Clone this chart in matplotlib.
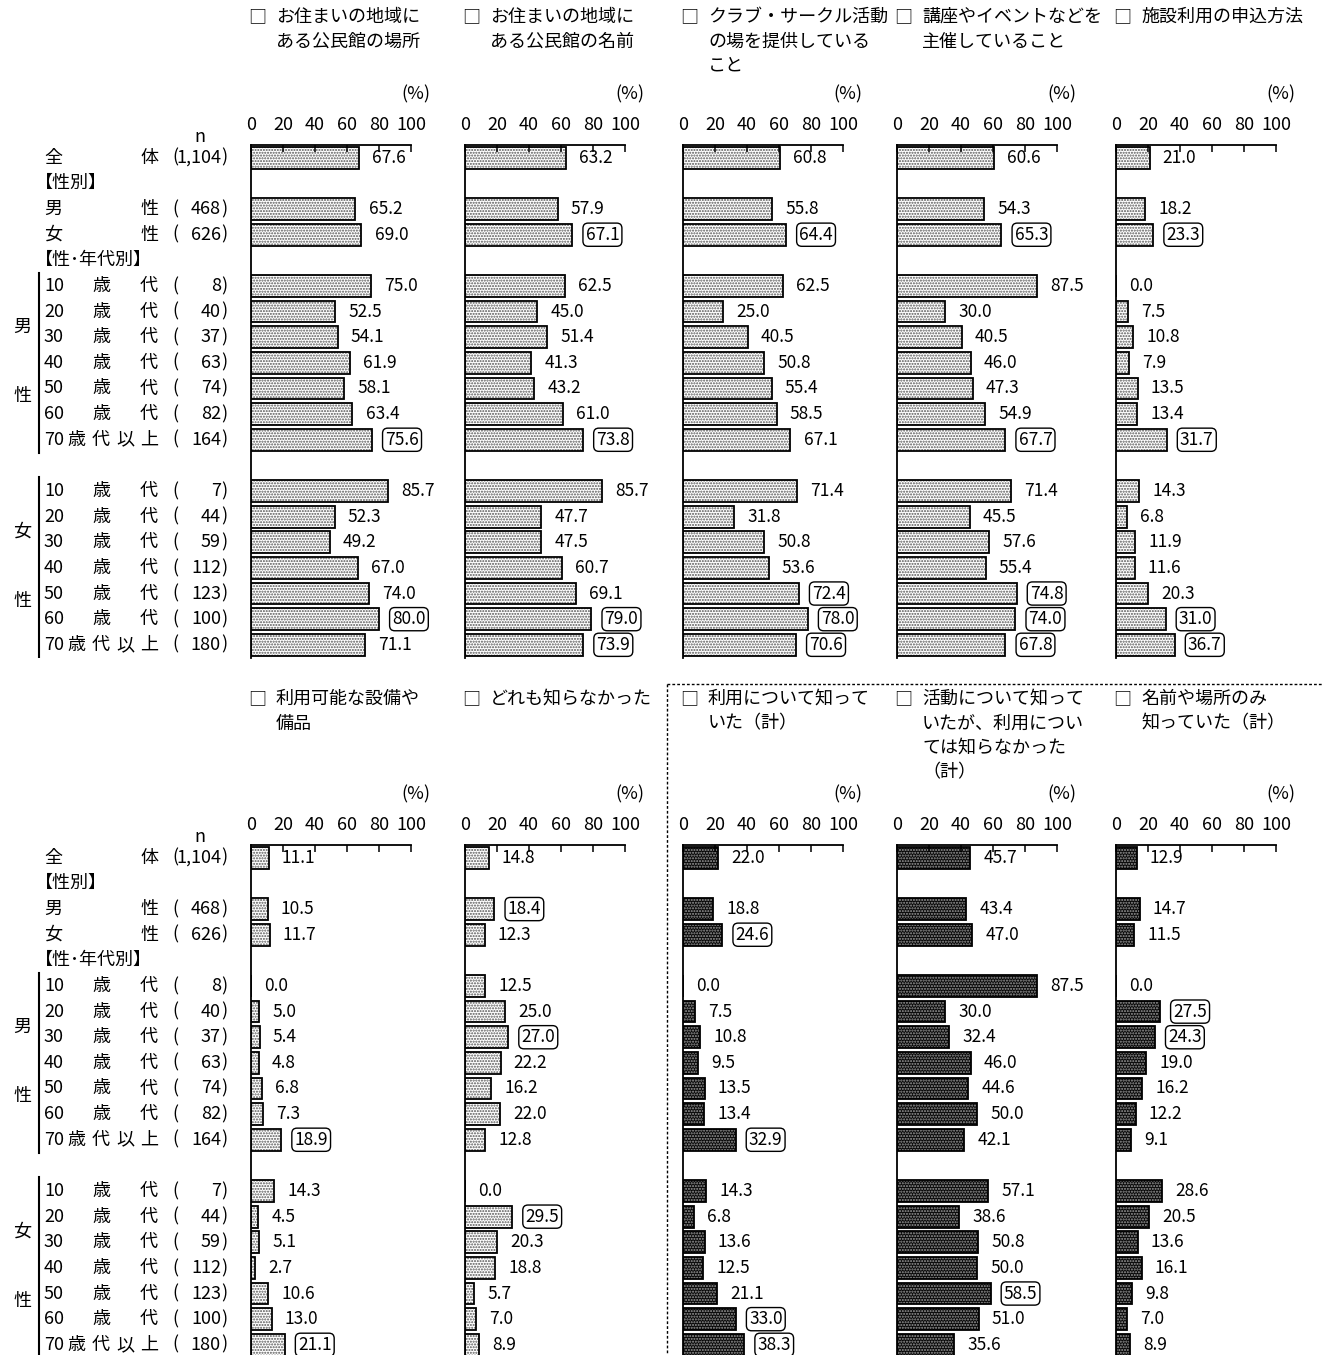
import numpy as np
import matplotlib.pyplot as plt
from matplotlib.lines import Line2D

plt.rcParams['font.family'] = ['Noto Sans CJK JP', 'DejaVu Sans']
plt.rcParams['font.size'] = 13
plt.rcParams['hatch.linewidth'] = 1.0

W, H = 1322, 1355

# --- data ---------------------------------------------------------------
titles = [
    "お住まいの地域に\nある公民館の場所",
    "お住まいの地域に\nある公民館の名前",
    "クラブ・サークル活動\nの場を提供している\nこと",
    "講座やイベントなどを\n主催していること",
    "施設利用の申込方法",
    "利用可能な設備や\n備品",
    "どれも知らなかった",
    "利用について知って\nいた（計）",
    "活動について知って\nいたが、利用につい\nては知らなかった\n（計）",
    "名前や場所のみ\n知っていた（計）",
]

# order: 全体, 男性, 女性, 男10..70, 女10..70
place_vals = [67.6, 65.2, 69.0, 75.0, 52.5, 54.1, 61.9, 58.1, 63.4, 75.6,
              85.7, 52.3, 49.2, 67.0, 74.0, 80.0, 71.1]
name_vals = [63.2, 57.9, 67.1, 62.5, 45.0, 51.4, 41.3, 43.2, 61.0, 73.8,
             85.7, 47.7, 47.5, 60.7, 69.1, 79.0, 73.9]
club_vals = [60.8, 55.8, 64.4, 62.5, 25.0, 40.5, 50.8, 55.4, 58.5, 67.1,
             71.4, 31.8, 50.8, 53.6, 72.4, 78.0, 70.6]
event_vals = [60.6, 54.3, 65.3, 87.5, 30.0, 40.5, 46.0, 47.3, 54.9, 67.7,
              71.4, 45.5, 57.6, 55.4, 74.8, 74.0, 67.8]
apply_vals = [21.0, 18.2, 23.3, 0.0, 7.5, 10.8, 7.9, 13.5, 13.4, 31.7,
              14.3, 6.8, 11.9, 11.6, 20.3, 31.0, 36.7]
equip_vals = [11.1, 10.5, 11.7, 0.0, 5.0, 5.4, 4.8, 6.8, 7.3, 18.9,
              14.3, 4.5, 5.1, 2.7, 10.6, 13.0, 21.1]
none_vals = [14.8, 18.4, 12.3, 12.5, 25.0, 27.0, 22.2, 16.2, 22.0, 12.8,
             0.0, 29.5, 20.3, 18.8, 5.7, 7.0, 8.9]
use_vals = [22.0, 18.8, 24.6, 0.0, 7.5, 10.8, 9.5, 13.5, 13.4, 32.9,
            14.3, 6.8, 13.6, 12.5, 21.1, 33.0, 38.3]
act_vals = [45.7, 43.4, 47.0, 87.5, 30.0, 32.4, 46.0, 44.6, 50.0, 42.1,
            57.1, 38.6, 50.8, 50.0, 58.5, 51.0, 35.6]
only_vals = [12.9, 14.7, 11.5, 0.0, 27.5, 24.3, 19.0, 16.2, 12.2, 9.1,
             28.6, 20.5, 13.6, 16.1, 9.8, 7.0, 8.9]

# indices of values shown in a box
boxed = [
    [9, 15],
    [2, 9, 15, 16],
    [2, 14, 15, 16],
    [2, 9, 14, 15, 16],
    [2, 9, 15, 16],
    [9, 16],
    [1, 5, 11],
    [2, 9, 15, 16],
    [14],
    [4, 5],
]

all_vals = [place_vals, name_vals, club_vals, event_vals, apply_vals,
            equip_vals, none_vals, use_vals, act_vals, only_vals]
dark_panels = [7, 8, 9]

ages = ["10", "20", "30", "40", "50", "60", "70"]
n_male = [8, 40, 37, 63, 74, 82, 164]
n_female = [7, 44, 59, 112, 123, 100, 180]
n_total, n_m, n_f = 1104, 468, 626

# row slots (gaps for headers and between sexes)
slots = [0, 2, 3] + list(range(5, 12)) + list(range(13, 20))

# --- layout -------------------------------------------------------------
panel_x0 = [251, 465, 683, 897, 1116]
row_top = [145, 845]
title_top = [17, 699]
px_per_unit = 1.6
slot_px = 25.63
ax_w = 130 * px_per_unit
ax_h = 20 * slot_px

fig = plt.figure(figsize=(W / 100, H / 100), dpi=100)


def fx(px):
    return px / W


def fy(py):
    return 1 - py / H


def draw_labels(top):
    ax = fig.add_axes([0, fy(top + ax_h), fx(250), ax_h / H])
    ax.set_xlim(0, 250)
    ax.set_ylim(19.5, -0.5)
    ax.axis('off')
    ax.text(200, -0.8, "n", ha='center', va='center')

    def row(y, parts, n):
        for x, s in parts:
            ax.text(x, y, s, ha='left', va='center')
        ax.text(172, y, "(", ha='left', va='center')
        ax.text(221, y, f"{n:,}", ha='right', va='center')
        ax.text(221, y, ")", ha='left', va='center')

    row(0, [(44, "全"), (140, "体")], n_total)
    ax.text(35, 1, "【性別】", ha='left', va='center')
    row(2, [(44, "男"), (140, "性")], n_m)
    row(3, [(44, "女"), (140, "性")], n_f)
    ax.text(35, 4, "【性･年代別】", ha='left', va='center')
    for k, base in enumerate([5, 13]):
        ns = n_male if k == 0 else n_female
        for i, a in enumerate(ages):
            if a == "70":
                parts = [(44, "70"), (67, "歳"), (92, "代"), (116, "以"), (140, "上")]
            else:
                parts = [(44, a), (92, "歳"), (140, "代")]
            row(base + i, parts, ns[i])
    ax.plot([39, 39], [4.5, 11.5], color='black', lw=1.5)
    ax.plot([39, 39], [12.45, 19.5], color='black', lw=1.5)
    ax.text(22, 6.6, "男", ha='center', va='center')
    ax.text(22, 9.3, "性", ha='center', va='center')
    ax.text(22, 14.6, "女", ha='center', va='center')
    ax.text(22, 17.3, "性", ha='center', va='center')


def draw_panel(idx, top, ttop, x0):
    vals = all_vals[idx]
    dark = idx in dark_panels
    face, dots = ('#080808', '#9c9c9c') if dark else ('#ffffff', '#555555')
    ax = fig.add_axes([fx(x0), fy(top + ax_h), ax_w / W, ax_h / H])
    ax.barh(slots, vals, height=0.85, color=face, edgecolor=dots,
            hatch='......', linewidth=0)
    ax.barh(slots, vals, height=0.85, fill=False, edgecolor='black',
            linewidth=1.3)
    for i, (y, v) in enumerate(zip(slots, vals)):
        bb = None
        if i in boxed[idx]:
            bb = dict(boxstyle='round,pad=0.15,rounding_size=0.3',
                      fc='white', ec='black', lw=1)
        ax.annotate(f"{v:.1f}", (v, y), xytext=(9.5, 0),
                    textcoords='offset points', ha='left', va='center',
                    fontsize=12.5, bbox=bb)
    ax.set_xlim(0, 130)
    ax.set_ylim(19.5, -0.5)
    ax.xaxis.set_ticks_position('top')
    ax.set_xticks([0, 20, 40, 60, 80, 100])
    ax.tick_params(axis='x', direction='in', length=5, width=1.1, pad=8,
                   labelsize=13)
    ax.set_yticks([])
    ax.spines['top'].set_bounds(0, 100)
    ax.spines['left'].set_bounds(-0.5, 19.5)
    for s in ['top', 'left']:
        ax.spines[s].set_linewidth(1.3)
    ax.spines['right'].set_visible(False)
    ax.spines['bottom'].set_visible(False)
    ax.patch.set_alpha(0)

    # title
    fig.text(fx(x0 - 3), fy(ttop), "□", ha='left', va='center')
    for j, line in enumerate(titles[idx].split("\n")):
        fig.text(fx(x0 + 25), fy(ttop + 24.5 * j), line, ha='left',
                 va='center')
    fig.text(fx(x0 + 179), fy(top - 51), "(%)", ha='right', va='center')


for r, top in enumerate(row_top):
    draw_labels(top)
    for c in range(5):
        draw_panel(r * 5 + c, top, title_top[r], panel_x0[c])

# dotted frame around the summary panels
frame = dict(color='black', lw=1, linestyle=(0, (2, 1.5)),
             transform=fig.transFigure)
fig.add_artist(Line2D([fx(667), fx(667)], [fy(684), 0], **frame))
fig.add_artist(Line2D([fx(667), 1], [fy(684), fy(684)], **frame))

plt.savefig("out.png", dpi=100)
plt.close()
